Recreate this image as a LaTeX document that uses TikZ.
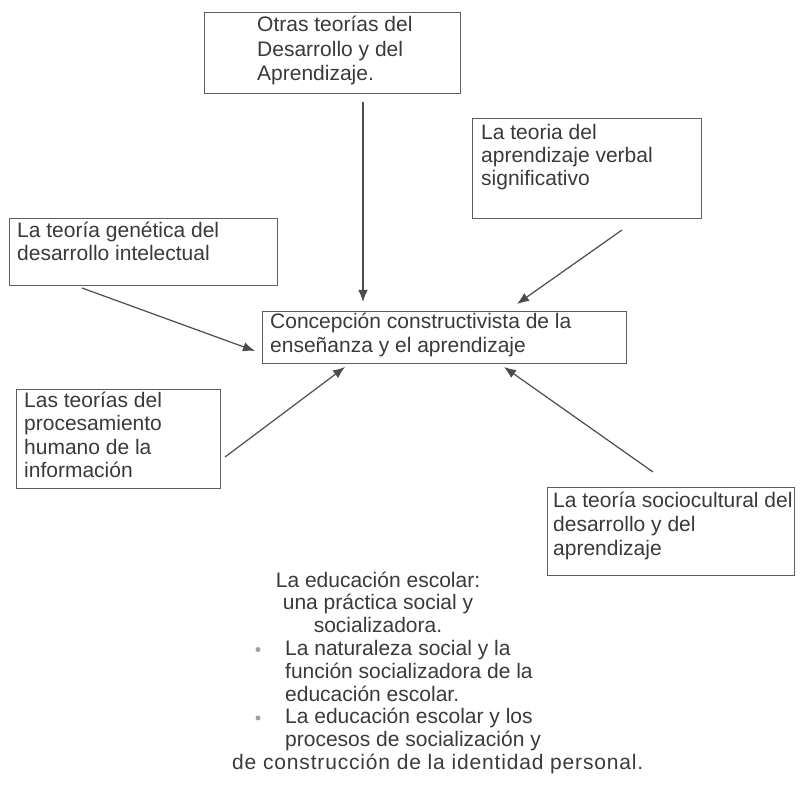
\documentclass[tikz,border=0pt]{standalone}
\usepackage{fontspec}
\setmainfont{Liberation Sans}
\usetikzlibrary{arrows.meta}
\definecolor{ink}{HTML}{3A3A3A}
\definecolor{frame}{HTML}{5E5E5E}
\definecolor{arrowc}{HTML}{4C4C4C}
\definecolor{dotc}{HTML}{A0A0A0}
\begin{document}
\begin{tikzpicture}[x=1pt,y=-1pt,
  box/.style={draw=frame, line width=1.1pt, inner sep=0pt, anchor=north west},
  txt/.style={text=ink, inner sep=0pt, anchor=north west, align=left},
  arr/.style={draw=arrowc, line width=1.2pt, -{Latex[length=12pt,width=9.5pt]}},
  dot/.style={fill=dotc, draw=none}]
\useasboundingbox[fill=white] (0,0) rectangle (801,791);

% boxes
\node[box, minimum width=256pt, minimum height=81pt] (otras) at (204,12) {};
\node[box, minimum width=229pt, minimum height=100pt] (verbal) at (472,118) {};
\node[box, minimum width=268pt, minimum height=67pt] (genetica) at (9,218) {};
\node[box, minimum width=364pt, minimum height=52pt] (central) at (262,311) {};
\node[box, minimum width=204pt, minimum height=99pt] (proces) at (16,389) {};
\node[box, minimum width=247pt, minimum height=88pt] (socio) at (547,487) {};

% texts
\node[txt, font=\fontsize{21}{24.5}\selectfont] (otrasT) at (257,14.5)
  {\strut Otras teorías del\\Desarrollo y del\\Aprendizaje.};
\node[txt, font=\fontsize{21}{23}\selectfont] (verbalT) at (481,123.5)
  {\strut La teoria del\\aprendizaje verbal\\significativo};
\node[txt, font=\fontsize{21}{23}\selectfont] (geneticaT) at (17,221.5)
  {\strut La teoría genética del\\desarrollo intelectual};
\node[txt, font=\fontsize{21}{24}\selectfont] (centralT) at (270,311.5)
  {\strut Concepción constructivista de la\\enseñanza y el aprendizaje};
\node[txt, font=\fontsize{21}{23.3}\selectfont] (procesT) at (24,391)
  {\strut Las teorías del\\procesamiento\\humano de la\\información};
\node[txt, font=\fontsize{21}{24}\selectfont] (socioT) at (553,490.5)
  {\strut La teoría sociocultural del\\desarrollo y del\\aprendizaje};

% bottom text
\node[txt, anchor=north, align=center, font=\fontsize{21}{22.8}\selectfont] (titleT) at (378,571)
  {\strut La educación escolar:\\una práctica social y\\socializadora.};
\node[txt, font=\fontsize{21}{22.8}\selectfont] (listT) at (285,639.4)
  {\strut La naturaleza social y la\\función socializadora de la\\educación escolar.\\La educación escolar y los\\procesos de socialización y};
\node[txt, font=\fontsize{21}{22.8}\selectfont\addfontfeature{LetterSpace=4}] (lastT) at (232,753.4)
  {\strut de construcción de la identidad personal.};
\fill[dot] (258,649.5) circle (2.5);
\fill[dot] (258,717.9) circle (2.5);

% connectors
\coordinate (s1) at (otras.south -| 363,0);
\coordinate (e1) at (central.north -| 363,0);
\coordinate (s2) at (622,230);
\coordinate (e2) at (517,304);
\coordinate (s3) at (82,288);
\coordinate (e3) at (255,351);
\coordinate (s4) at (225,457);
\coordinate (e4) at (345,367);
\coordinate (s5) at (653,472);
\coordinate (e5) at (504,367);
\draw[arr, shorten <=8pt, shorten >=9pt] (s1) -- (e1);
\draw[arr] (s2) -- (e2);
\draw[arr] (s3) -- (e3);
\draw[arr] (s4) -- (e4);
\draw[arr] (s5) -- (e5);
\end{tikzpicture}
\end{document}
